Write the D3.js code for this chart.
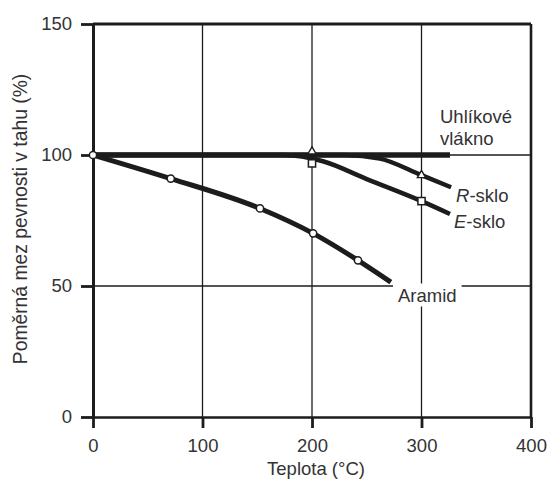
<!DOCTYPE html>
<html>
<head>
<meta charset="utf-8">
<script src="https://cdn.jsdelivr.net/npm/d3@7"></script>
<style>
  html, body { margin: 0; padding: 0; background: #fff; }
  svg { display: block; }
  text { font-family: "Liberation Sans", Arial, sans-serif; fill: #333; }
</style>
</head>
<body>
<svg id="chart" width="550" height="486"></svg>
<script>
// ---- data ----
const xTicks = [0, 100, 200, 300, 400];
const yTicks = [0, 50, 100, 150];
const xGrid = [100, 200, 300];
const yGrid = [50, 100];

const carbonT = [0, 326];
const carbonV = [100, 100];

const rGlassT = [0, 230, 262, 300, 327];
const rGlassV = [100, 100, 98.6, 92.3, 87.7];
const rMarkT = [200, 300];
const rMarkV = [101.3, 92.3];

const eGlassT = [0, 175, 210, 250, 300, 326];
const eGlassV = [100, 100, 97.6, 90.8, 82.4, 77.5];
const eMarkT = [200, 300];
const eMarkV = [96.8, 82.4];

const aramidT = [0, 71, 152.5, 201, 242, 272];
const aramidV = [100, 91, 79.6, 70.1, 59.8, 51.5];
const aramidMarkT = [0, 71, 152.5, 201, 242];
const aramidMarkV = [100, 91, 79.6, 70.1, 59.8];

const xTitle = "Teplota (°C)";
const yTitle = "Poměrná mez pevnosti v tahu (%)";

// ---- drawing ----
const svg = d3.select("#chart");
const x = d3.scaleLinear().domain([0, 400]).range([93, 531]);
const y = d3.scaleLinear().domain([0, 150]).range([417, 24]);
const ink = "#1c1c1c";
const FS = 18.5;

// grid
svg.append("g").selectAll("line").data(xGrid).join("line")
  .attr("x1", d => x(d)).attr("x2", d => x(d))
  .attr("y1", y(150)).attr("y2", y(0))
  .attr("stroke", ink).attr("stroke-width", 1.3);
svg.append("g").selectAll("line").data(yGrid).join("line")
  .attr("x1", x(0)).attr("x2", x(400))
  .attr("y1", d => y(d)).attr("y2", d => y(d))
  .attr("stroke", ink).attr("stroke-width", 1.3);

// frame top / right
svg.append("line").attr("x1", x(0)).attr("x2", x(400)).attr("y1", y(150)).attr("y2", y(150))
  .attr("stroke", ink).attr("stroke-width", 2.8);
svg.append("line").attr("x1", x(400)).attr("x2", x(400)).attr("y1", y(150)).attr("y2", y(0))
  .attr("stroke", ink).attr("stroke-width", 2.6);

// axes
const gx = svg.append("g").attr("transform", `translate(0,${y(0)})`)
  .call(d3.axisBottom(x).tickValues(xTicks).tickSize(11).tickPadding(11).tickSizeOuter(0));
const gy = svg.append("g").attr("transform", `translate(${x(0)},0)`)
  .call(d3.axisLeft(y).tickValues(yTicks).tickSize(12).tickPadding(9).tickSizeOuter(0));
[gx, gy].forEach(g => {
  g.select(".domain").attr("stroke", ink).attr("stroke-width", 3);
  g.selectAll(".tick line").attr("stroke", ink).attr("stroke-width", 2.8);
  g.selectAll(".tick text").attr("fill", "#333")
    .style("font-family", "'Liberation Sans', Arial, sans-serif").style("font-size", FS + "px");
});
gx.select(".domain").attr("stroke-width", 2.6);

// axis titles
svg.append("text").attr("x", 316).attr("y", 475).attr("text-anchor", "middle")
  .style("font-size", FS + "px").text(xTitle);
svg.append("text").attr("transform", "translate(27,219) rotate(-90)").attr("text-anchor", "middle")
  .style("font-size", "19.3px").text(yTitle);

// lines
const line = (ts, vs) => d3.line().x((d, i) => x(ts[i])).y((d, i) => y(vs[i])).curve(d3.curveMonotoneX)(ts);
svg.append("path").attr("d", line(eGlassT, eGlassV)).attr("fill", "none").attr("stroke", ink).attr("stroke-width", 4.5);
svg.append("path").attr("d", line(rGlassT, rGlassV)).attr("fill", "none").attr("stroke", ink).attr("stroke-width", 4.5);
svg.append("path").attr("d", line(aramidT, aramidV)).attr("fill", "none").attr("stroke", ink).attr("stroke-width", 5);
svg.append("path").attr("d", line(carbonT, carbonV)).attr("fill", "none").attr("stroke", ink).attr("stroke-width", 5.5);

// markers
svg.append("g").selectAll("circle").data(aramidMarkT).join("circle")
  .attr("cx", d => x(d)).attr("cy", (d, i) => y(aramidMarkV[i])).attr("r", 3.6)
  .attr("fill", "#fff").attr("stroke", ink).attr("stroke-width", 1.5);
svg.append("g").selectAll("rect").data(eMarkT).join("rect")
  .attr("x", d => x(d) - 3.6).attr("y", (d, i) => y(eMarkV[i]) - 3.6)
  .attr("width", 7.2).attr("height", 7.2)
  .attr("fill", "#fff").attr("stroke", ink).attr("stroke-width", 1.5);
svg.append("g").selectAll("path").data(rMarkT).join("path")
  .attr("d", d3.symbol().type(d3.symbolTriangle).size(30))
  .attr("transform", (d, i) => `translate(${x(d)},${y(rMarkV[i])})`)
  .attr("fill", "#fff").attr("stroke", ink).attr("stroke-width", 1.4);

// series labels
svg.append("text").attr("x", 440).attr("y", 123).style("font-size", FS + "px").text("Uhlíkové");
svg.append("text").attr("x", 440).attr("y", 145).style("font-size", FS + "px").text("vlákno");

const rl = svg.append("text").attr("x", 456).attr("y", 202).style("font-size", FS + "px");
rl.append("tspan").style("font-style", "italic").text("R");
rl.append("tspan").text("-sklo");
const el = svg.append("text").attr("x", 454).attr("y", 228).style("font-size", FS + "px");
el.append("tspan").style("font-style", "italic").text("E");
el.append("tspan").text("-sklo");

const ag = svg.append("g");
const at = ag.append("text").attr("x", 398).attr("y", 301.5).style("font-size", FS + "px").text("Aramid");
const bb = at.node().getBBox();
ag.insert("rect", "text").attr("x", bb.x - 5).attr("y", bb.y - 1)
  .attr("width", bb.width + 10).attr("height", bb.height + 2).attr("fill", "#fff");
</script>
</body>
</html>
